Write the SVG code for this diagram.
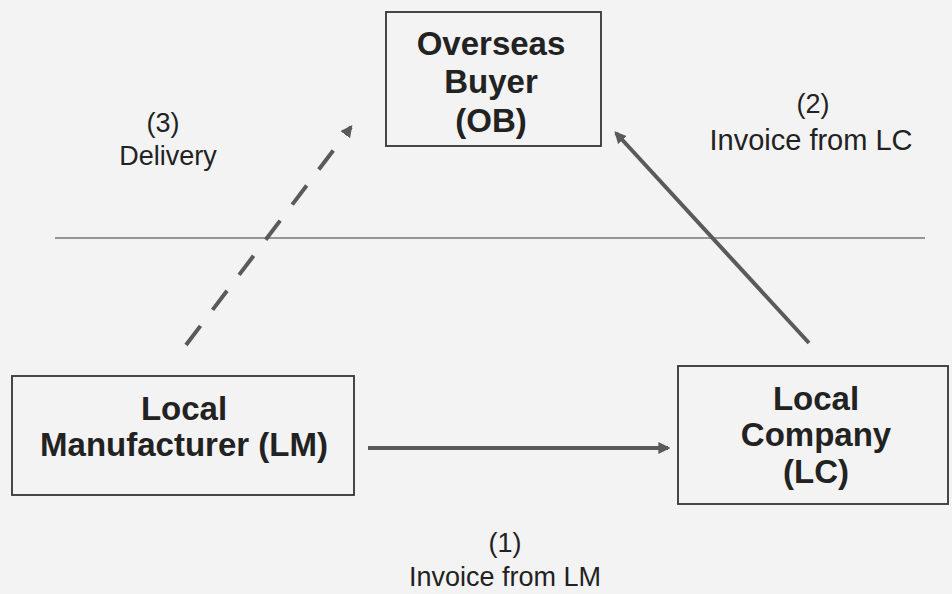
<svg xmlns="http://www.w3.org/2000/svg" width="952" height="594" viewBox="0 0 952 594">
<defs>
<style>
.box{fill:none;stroke:#333;stroke-width:1.8}
.bt{font-family:"Liberation Sans",Arial,sans-serif;font-weight:bold;font-size:33px;fill:#222;text-anchor:middle}
.lt{font-family:"Liberation Sans",Arial,sans-serif;font-size:27px;fill:#222;text-anchor:middle}
.conn{fill:none;stroke:#5a5a5a;stroke-width:4}
</style>
<marker id="ah" viewBox="0 0 10 10" refX="8" refY="5" markerWidth="3" markerHeight="3" orient="auto" markerUnits="strokeWidth">
<path d="M0,0 L10,5 L0,10 z" fill="#5a5a5a"/>
</marker>
</defs>
<rect width="952" height="594" fill="#f3f3f3"/>
<line x1="55" y1="238" x2="925" y2="238" stroke="#777" stroke-width="1.5"/>
<g id="ob">
<rect class="box" x="386" y="12" width="215" height="134"/>
<text class="bt" x="491" y="55">Overseas</text>
<text class="bt" x="491" y="93">Buyer</text>
<text class="bt" x="491" y="132">(OB)</text>
</g>
<g id="lm">
<rect class="box" x="12" y="376" width="342" height="119"/>
<text class="bt" x="184" y="420">Local</text>
<text class="bt" x="184" y="456">Manufacturer (LM)</text>
</g>
<g id="lc">
<rect class="box" x="678" y="366" width="270" height="138"/>
<text class="bt" x="816" y="410">Local</text>
<text class="bt" x="816" y="446">Company</text>
<text class="bt" x="816" y="483">(LC)</text>
</g>
<g id="connectors">
<line class="conn" x1="368" y1="448" x2="668" y2="448" marker-end="url(#ah)"/>
<line class="conn" x1="809" y1="343" x2="616" y2="133" marker-end="url(#ah)"/>
<line class="conn" x1="186" y1="345" x2="351" y2="127" stroke-dasharray="24 20" marker-end="url(#ah)"/>
</g>
<g id="labels">
<text class="lt" x="163" y="132">(3)</text>
<text class="lt" x="168" y="165">Delivery</text>
<text class="lt" x="813" y="113">(2)</text>
<text class="lt" x="811" y="150" style="font-size:29px">Invoice from LC</text>
<text class="lt" x="505" y="552">(1)</text>
<text class="lt" x="505" y="586">Invoice from LM</text>
</g>
</svg>
